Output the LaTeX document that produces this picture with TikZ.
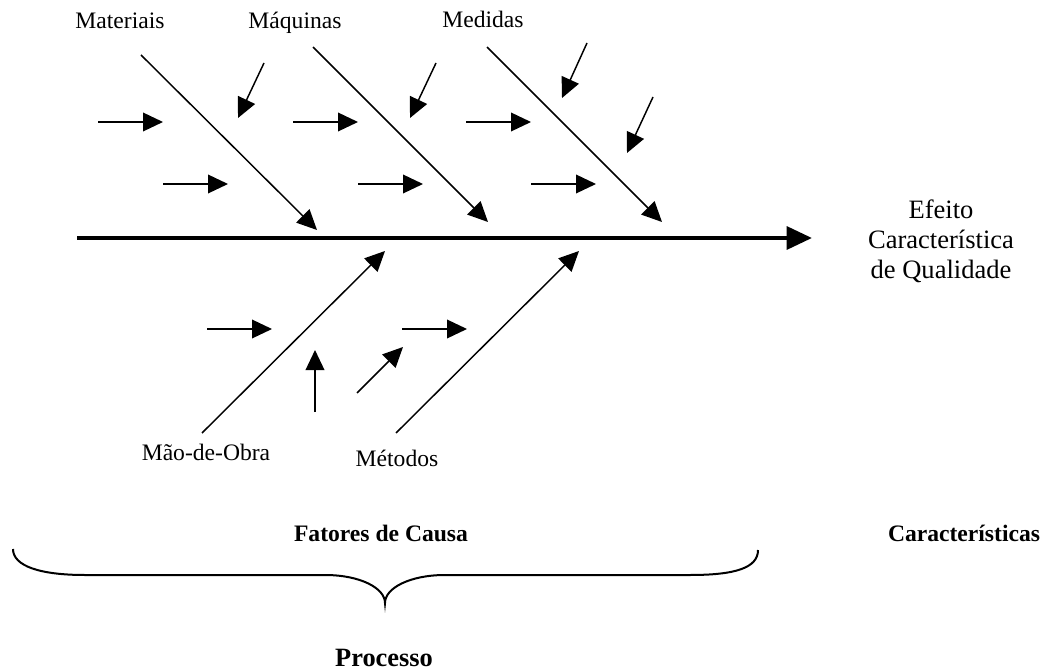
\documentclass[tikz,border=0pt]{standalone}
\usepackage{fontspec}
\setmainfont{Liberation Serif}
\usetikzlibrary{arrows.meta}
\tikzset{
  cause/.style={line width=1.1pt,-{Triangle[length=15pt,width=14pt]}},
  bone/.style={line width=1.1pt,-{Triangle[length=15pt,width=14pt]}},
  spine/.style={line width=3.2pt,-{Triangle[length=19pt,width=17pt]}},
  lbl/.style={inner sep=0pt,anchor=base,font=\fontsize{17.7}{22}\selectfont},
  biglbl/.style={inner sep=0pt,anchor=base,font=\fontsize{19.9}{24}\selectfont},
  blbl/.style={inner sep=0pt,anchor=base,font=\fontsize{17.7}{22}\selectfont\bfseries},
  bigblbl/.style={inner sep=0pt,anchor=base,font=\fontsize{19.8}{24}\selectfont\bfseries},
  bracestyle/.style={line width=1.5pt}
}
\begin{document}
\begin{tikzpicture}[x=0.75pt,y=-0.75pt]
\useasboundingbox (0,0) rectangle (1042,670);
% spine
\coordinate (s0) at (77,238);
\coordinate (s1) at (812,238);
\draw[spine] (s0) -- (s1);
% main bones
\coordinate (m1a) at (141,55);  \coordinate (m1b) at (317,230);
\coordinate (m2a) at (313,47);  \coordinate (m2b) at (488,222);
\coordinate (m3a) at (487,47);  \coordinate (m3b) at (662,222);
\coordinate (m4a) at (202,433); \coordinate (m4b) at (385,251);
\coordinate (m5a) at (396,433); \coordinate (m5b) at (579,251);
\draw[bone] (m1a) -- (m1b);
\draw[bone] (m2a) -- (m2b);
\draw[bone] (m3a) -- (m3b);
\draw[bone] (m4a) -- (m4b);
\draw[bone] (m5a) -- (m5b);
% small cause arrows, top
\coordinate (c1a) at (98,122);  \coordinate (c1b) at (163,122);
\coordinate (c2a) at (163,184); \coordinate (c2b) at (228,184);
\coordinate (c3a) at (264,63);  \coordinate (c3b) at (238,118);
\coordinate (c4a) at (293,122); \coordinate (c4b) at (358,122);
\coordinate (c5a) at (358,184); \coordinate (c5b) at (423,184);
\coordinate (c6a) at (436,63);  \coordinate (c6b) at (410,118);
\coordinate (c7a) at (466,122); \coordinate (c7b) at (531,122);
\coordinate (c8a) at (531,184); \coordinate (c8b) at (596,184);
\coordinate (c9a) at (587,43);  \coordinate (c9b) at (562,98);
\coordinate (c10a) at (653,97); \coordinate (c10b) at (627,153);
\foreach \i in {1,...,10} {\draw[cause] (c\i a) -- (c\i b);}
% small cause arrows, bottom
\coordinate (e1a) at (207,329); \coordinate (e1b) at (272,329);
\coordinate (e2a) at (402,329); \coordinate (e2b) at (467,329);
\coordinate (e3a) at (315,412); \coordinate (e3b) at (315,350);
\coordinate (e4a) at (357,393); \coordinate (e4b) at (403,347);
\foreach \i in {1,...,4} {\draw[cause] (e\i a) -- (e\i b);}
% labels
\node[lbl] (materiais) at (120,29) {Materiais};
\node[lbl] (maquinas) at (295,29) {Máquinas};
\node[lbl] (medidas) at (483,28) {Medidas};
\node[lbl] (maodeobra) at (206,460) {Mão-de-Obra};
\node[lbl] (metodos) at (397,466) {Métodos};
\node[biglbl] (efeito1) at (941,219) {Efeito};
\node[biglbl] (efeito2) at (941,249) {Característica};
\node[biglbl] (efeito3) at (941,279) {de Qualidade};
\node[blbl] (fatores) at (381,541) {Fatores de Causa};
\node[blbl] (caract) at (964,541) {Características};
\node[bigblbl] (processo) at (384,666) {Processo};
% brace
\draw[bracestyle] (13,549) .. controls (13,566) and (40,575) .. (85,575)
  -- (325,575) .. controls (360,575) and (385,588) .. (385,603)
  .. controls (385,588) and (410,575) .. (445,575)
  -- (690,575) .. controls (735,575) and (758,568) .. (758,550);
\end{tikzpicture}
\end{document}
